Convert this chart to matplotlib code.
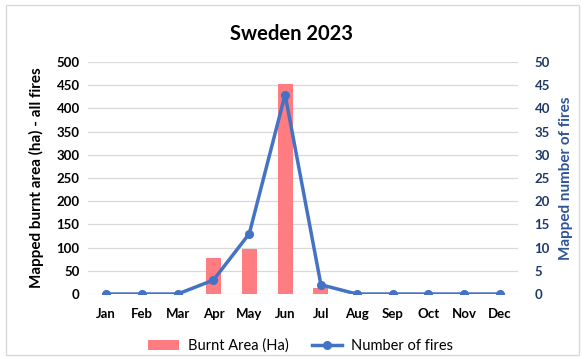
import matplotlib
matplotlib.use("Agg")
import matplotlib.pyplot as plt
from matplotlib.patches import Rectangle

months = ["Jan", "Feb", "Mar", "Apr", "May", "Jun", "Jul", "Aug", "Sep", "Oct", "Nov", "Dec"]
burnt_area = [0, 0, 0, 77, 97, 453, 13, 0, 0, 0, 0, 0]
num_fires = [0, 0, 0, 3, 13, 43, 2, 0, 0, 0, 0, 0]

plt.rcParams['font.family'] = ['Lato', 'DejaVu Sans']

fig = plt.figure(figsize=(5.84, 3.59), dpi=100)
fig.patches.append(Rectangle((0.01, 0.01), 0.982, 0.975, transform=fig.transFigure,
                             fill=False, edgecolor='#d9d9d9', linewidth=1))
ax = fig.add_axes([0.1507, 0.181, 0.7363, 0.646])
x = list(range(len(months)))
bars = ax.bar(x, burnt_area, width=0.42, color='#FF7C80', label='Burnt Area (Ha)', zorder=2)
ax.set_ylim(0, 500)
ax.set_yticks(range(0, 501, 50))
ax.set_xlim(-0.5, 11.5)
ax.set_xticks(x)
ax.set_xticklabels(months, fontweight='bold', fontsize=9.5)
for lab in ax.get_yticklabels():
    lab.set_fontweight('bold'); lab.set_fontsize(9.5)
ax.grid(axis='y', color='#d9d9d9', linewidth=0.9, zorder=0)
ax.set_axisbelow(True)
for s in ax.spines.values():
    s.set_visible(False)
ax.tick_params(axis='y', length=0, pad=6)
ax.tick_params(axis='x', length=0, pad=10)
ax.set_ylabel('Mapped burnt area (ha) - all fires', fontweight='bold', fontsize=11, labelpad=9)

ax2 = ax.twinx()
line, = ax2.plot(x, num_fires, color='#4472C4', linewidth=2.5, marker='o', markersize=5.5,
                 label='Number of fires', zorder=3)
ax2.set_ylim(0, 50)
ax2.set_yticks(range(0, 51, 5))
for s in ax2.spines.values():
    s.set_visible(False)
ax2.tick_params(axis='y', length=0, pad=12, colors='#1F3864', labelsize=9.5)
for lab in ax2.get_yticklabels():
    lab.set_fontweight('bold')
ax2.set_ylabel('Mapped number of fires', fontweight='bold', fontsize=11, color='#2F5597', labelpad=6)

fig.text(0.5, 0.905, 'Sweden 2023', ha='center', va='center', fontsize=14.5, fontweight='bold')
fig.legend([bars, line], ['Burnt Area (Ha)', 'Number of fires'], loc='center',
           bbox_to_anchor=(0.515, 0.037), ncol=2, frameon=False, fontsize=10.5,
           handlelength=2.1, handletextpad=0.6, columnspacing=1.6)

fig.savefig('out.png', dpi=100)
